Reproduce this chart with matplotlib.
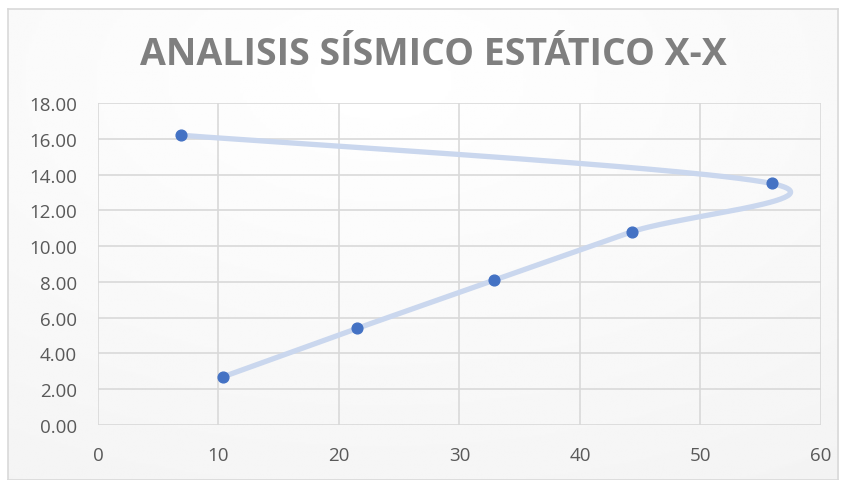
import numpy as np
import matplotlib
matplotlib.use("Agg")
import matplotlib.pyplot as plt

title = "ANALISIS SÍSMICO ESTÁTICO X-X"
x_vals = [10.4, 21.5, 32.9, 44.3, 55.9, 6.9]
y_vals = [2.70, 5.40, 8.10, 10.80, 13.50, 16.20]
x_ticks = [0, 10, 20, 30, 40, 50, 60]
y_ticks = [0, 2, 4, 6, 8, 10, 12, 14, 16, 18]

fig = plt.figure(figsize=(8.47, 4.81), dpi=100)
fig.patch.set_facecolor("white")

# background panel with soft gradient
bg = fig.add_axes([0.0095, 0.0, 0.98, 0.979])
grad = np.linspace(0, 1, 256)
gx, gy = np.meshgrid(grad, grad)
r = np.sqrt((gx - 0.45) ** 2 + (gy - 0.15) ** 2)
bgimg = 1.0 - 0.045 * np.clip(r, 0, 1)
bg.imshow(bgimg, cmap="gray", vmin=0, vmax=1, aspect="auto", extent=[0, 1, 0, 1])
bg.set_xticks([]); bg.set_yticks([])
for s in bg.spines.values():
    s.set_color("#d9d9d9")
    s.set_linewidth(1.2)
bg.set_zorder(0)

ax = fig.add_axes([0.1157, 0.1143, 0.8536, 0.6695])
ax.set_zorder(1)
ax.patch.set_alpha(0)
ax.set_xlim(0, 60)
ax.set_ylim(0, 18)
ax.set_xticks(x_ticks)
ax.set_yticks(y_ticks)
ax.set_yticklabels([f"{v:.2f}" for v in y_ticks])
ax.grid(True, color="#d9d9d9", linewidth=1.2)
ax.set_axisbelow(True)
for s in ax.spines.values():
    s.set_visible(False)
ax.tick_params(length=0, labelsize=13.5, labelcolor="#595959")
ax.tick_params(axis="y", pad=15)
ax.tick_params(axis="x", pad=15)
for lab in ax.get_xticklabels() + ax.get_yticklabels():
    lab.set_fontfamily("Open Sans")

# Excel-style smoothed line (Catmull-Rom Bezier in display space)
fig.canvas.draw()
pts = ax.transData.transform(np.column_stack([x_vals, y_vals]))
n = len(pts)
curve = []
for i in range(n - 1):
    p0 = pts[max(i - 1, 0)]
    p1 = pts[i]
    p2 = pts[i + 1]
    p3 = pts[min(i + 2, n - 1)]
    c1 = p1 + (p2 - p0) / 6.0
    c2 = p2 - (p3 - p1) / 6.0
    t = np.linspace(0, 1, 60)[:, None]
    seg = ((1 - t) ** 3) * p1 + 3 * ((1 - t) ** 2) * t * c1 + 3 * (1 - t) * t ** 2 * c2 + t ** 3 * p2
    curve.append(seg)
curve = np.vstack(curve)
curve_d = ax.transData.inverted().transform(curve)
ax.plot(curve_d[:, 0], curve_d[:, 1], color="#cad7ee", linewidth=3.8,
        solid_capstyle="round", zorder=2)
ax.scatter(x_vals, y_vals, s=60, color="#4472c4", zorder=3, edgecolors="#4472c4")

fig.text(0.512, 0.886, title, ha="center", va="center", fontsize=27,
         fontweight="bold", color="#7f7f7f", family="Open Sans")

fig.savefig("out.png", dpi=100)
